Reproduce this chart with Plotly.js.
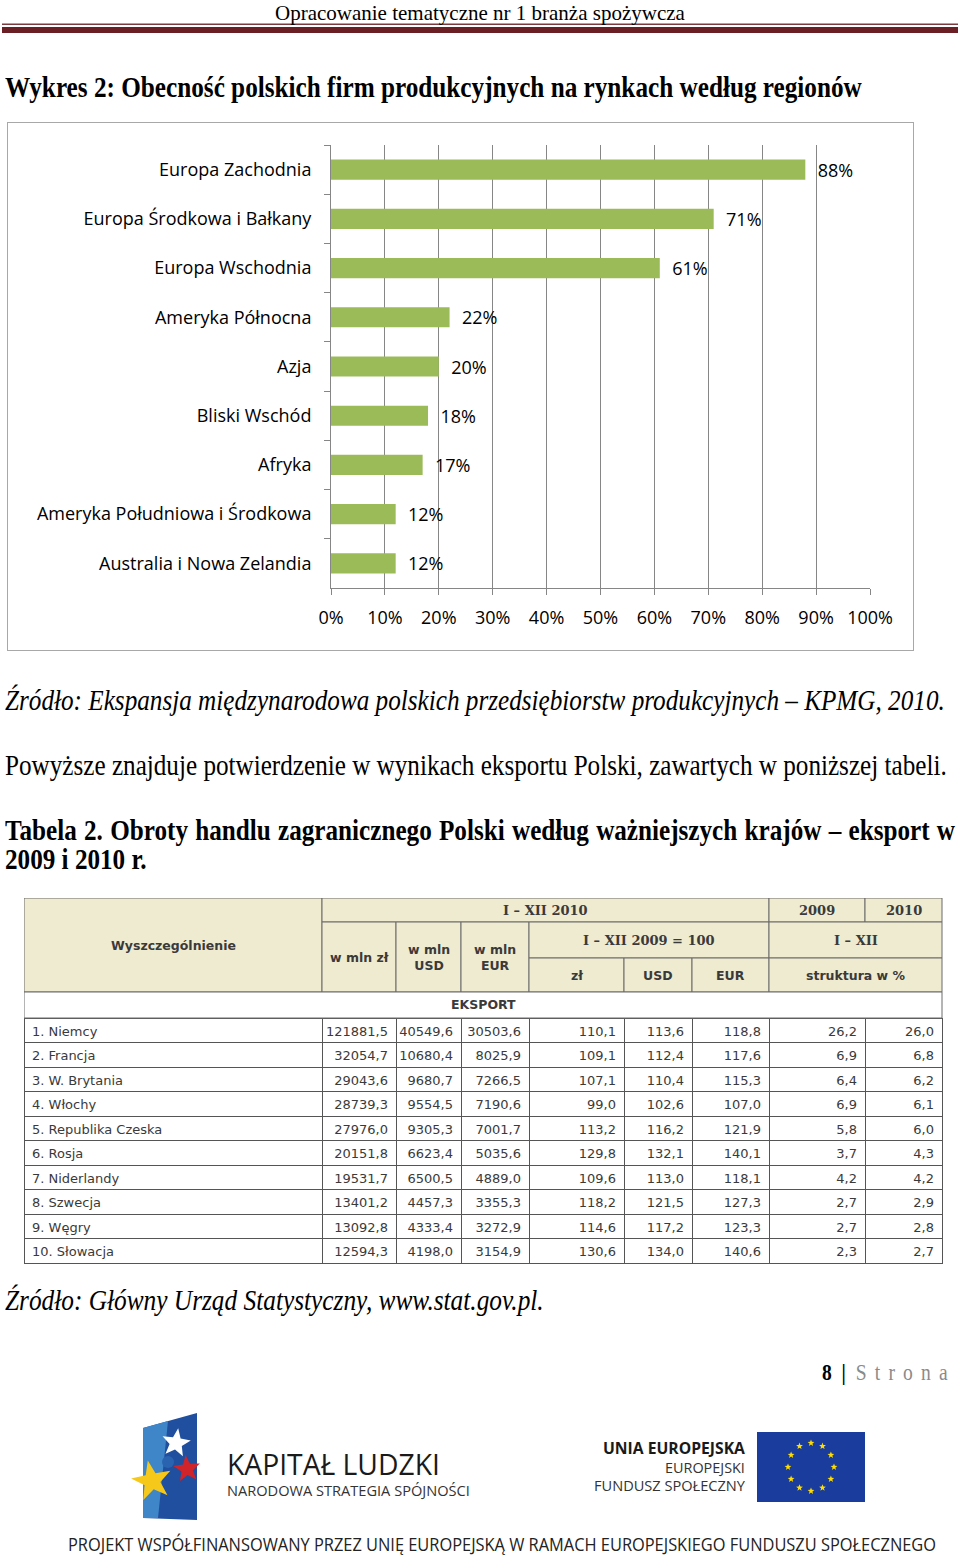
<!DOCTYPE html>
<html><head><meta charset="utf-8">
<script src="https://cdn.plot.ly/plotly-3.0.1.min.js"></script>
<style>
html,body{margin:0;padding:0;background:#fff;}
#page{position:relative;width:960px;height:1559px;overflow:hidden;background:#fff;}
.t{position:absolute;white-space:nowrap;line-height:1;transform-origin:0 50%;}
#chartBox{position:absolute;left:7px;top:122px;width:905px;height:527px;border:1.5px solid #a8a8a8;}
#chart{position:absolute;left:0;top:0;width:905px;height:527px;}
#table{position:absolute;left:24px;top:898px;width:919px;height:367px;}
#deco{position:absolute;left:0;top:0;}
</style></head>
<body>
<div id="page">
<svg id="deco" width="960" height="1559" viewBox="0 0 960 1559"></svg>
<div id="chartBox"><div id="chart"></div></div>
<div id="table"></div>
</div>
<script>
// ---------- chart data ----------
const regions = ["Europa Zachodnia","Europa Środkowa i Bałkany","Europa Wschodnia","Ameryka Północna","Azja","Bliski Wschód","Afryka","Ameryka Południowa i Środkowa","Australia i Nowa Zelandia"];
const shares = [88,71,61,22,20,18,17,12,12];
const xTickVals = [0,10,20,30,40,50,60,70,80,90,100];
const xTickText = ["0%","10%","20%","30%","40%","50%","60%","70%","80%","90%","100%"];

// ---------- table data ----------
const countries = ["1. Niemcy","2. Francja","3. W. Brytania","4. Włochy","5. Republika Czeska","6. Rosja","7. Niderlandy","8. Szwecja","9. Węgry","10. Słowacja"];
const mlnZl  = [121881.5,32054.7,29043.6,28739.3,27976.0,20151.8,19531.7,13401.2,13092.8,12594.3];
const mlnUsd = [40549.6,10680.4,9680.7,9554.5,9305.3,6623.4,6500.5,4457.3,4333.4,4198.0];
const mlnEur = [30503.6,8025.9,7266.5,7190.6,7001.7,5035.6,4889.0,3355.3,3272.9,3154.9];
const idxZl  = [110.1,109.1,107.1,99.0,113.2,129.8,109.6,118.2,114.6,130.6];
const idxUsd = [113.6,112.4,110.4,102.6,116.2,132.1,113.0,121.5,117.2,134.0];
const idxEur = [118.8,117.6,115.3,107.0,121.9,140.1,118.1,127.3,123.3,140.6];
const str2009 = [26.2,6.9,6.4,6.9,5.8,3.7,4.2,2.7,2.7,2.3];
const str2010 = [26.0,6.8,6.2,6.1,6.0,4.3,4.2,2.9,2.8,2.7];
const headerLabels = ["Wyszczególnienie","I – XII 2010","2009","2010","w mln zł","w mln<br>USD","w mln<br>EUR","I – XII 2009 = 100","I – XII","zł","USD","EUR","struktura w %","EKSPORT"];
const headerSerif  = [false,true,true,true,false,false,false,true,true,false,false,false,false,false];

// ---------- bar chart ----------
const chartFont = 'Open Sans, sans-serif';
Plotly.newPlot('chart', [{
  type:'bar', orientation:'h', y:regions, x:shares,
  text: shares.map(v => v + '%'),
  marker:{color:'#9bbb59'},
  texttemplate:'\u00a0\u00a0%{text}', textposition:'outside', cliponaxis:false, constraintext:'none',
  textfont:{family:chartFont,size:18,color:'#000'},
  hoverinfo:'skip'
}], {
  width:905, height:527, margin:{l:323,r:43,t:22,b:62},
  paper_bgcolor:'#fff', plot_bgcolor:'#fff', showlegend:false, bargap:0.59,
  font:{family:chartFont,size:18,color:'#000'},
  xaxis:{range:[0,100], tickvals:xTickVals, ticktext:xTickText, showgrid:true, gridcolor:'#868686', gridwidth:1,
    showline:true, linecolor:'#868686', linewidth:1, ticks:'outside', ticklen:6, tickcolor:'#868686',
    zeroline:false, ticklabelstandoff:7, fixedrange:true},
  yaxis:{type:'category', autorange:'reversed', showgrid:false, showline:true, linecolor:'#868686', linewidth:1,
    ticks:'outside', tickson:'boundaries', ticklen:6, tickcolor:'#868686', ticklabelstandoff:15, fixedrange:true}
}, {displayModeBar:false, staticPlot:true});

// ---------- table ----------
const TW=919, TH=367;
const colEdges=[0,298,372,437,505,600,668,745,841,918];
const rowEdges=[0,24,60,94,120];
const headerSpans=[[0,1,0,3],[1,7,0,1],[7,8,0,1],[8,9,0,1],[1,2,1,3],[2,3,1,3],[3,4,1,3],[4,7,1,2],[7,9,1,2],[4,5,2,3],[5,6,2,3],[6,7,2,3],[7,9,2,3],[0,9,3,4]];
const fmt = a => a.map(v => v.toFixed(1).replace('.',','));
const colW = colEdges.slice(1).map((e,i)=>e-colEdges[i]);
const shapes=[], annotations=[];
headerSpans.forEach((s,i)=>{
  const x0=colEdges[s[0]], x1=colEdges[s[1]], y0=rowEdges[s[2]], y1=rowEdges[s[3]];
  shapes.push({type:'rect', xref:'paper', yref:'paper', x0:x0/TW, x1:x1/TW, y0:1-y0/TH, y1:1-y1/TH,
    fillcolor: i===13 ? '#ffffff' : '#efebd0', line:{color:'#6a6a6a', width:1}});
  annotations.push({xref:'paper', yref:'paper', x:(x0+x1)/2/TW, y:1-(y0+y1)/2/TH, xanchor:'center', yanchor:'middle',
    text:'<b>'+headerLabels[i]+'</b>', showarrow:false,
    font: headerSerif[i] ? {family:'DejaVu Serif, serif', size:13, color:'#3a3a3a'} : {family:'DejaVu Sans, sans-serif', size:12.5, color:'#3a3a3a'}});
});
const tableCols = [countries, fmt(mlnZl), fmt(mlnUsd), fmt(mlnEur), fmt(idxZl), fmt(idxUsd), fmt(idxEur), fmt(str2009), fmt(str2010)];
const cellAlign = ['left','right','right','right','right','right','right','right','right'];
const cellFont = {family:'DejaVu Sans, sans-serif', size:13, color:'#3a3a3a'};
Plotly.newPlot('table', [{
  type:'table', domain:{x:[0, 918/TW], y:[0, 1-120/TH]}, columnwidth:colW,
  header:{values: tableCols.map(c => [c[0]]), align:cellAlign, height:24.5, font:cellFont,
    fill:{color:'#ffffff'}, line:{color:'#555', width:1}},
  cells:{values: tableCols.map(c => c.slice(1)), align:cellAlign, height:24.5, font:cellFont,
    fill:{color:'#ffffff'}, line:{color:'#555', width:1}}
}], {width:TW, height:TH, margin:{l:0,r:0,t:0,b:0}, paper_bgcolor:'rgba(0,0,0,0)', shapes, annotations},
{displayModeBar:false, staticPlot:true});

// ---------- document text ----------
const page=document.getElementById('page');
function place(c){
  const el=document.createElement('div'); el.className='t';
  const sp=document.createElement('span'); sp.innerHTML=c.html; el.appendChild(sp);
  el.style.fontFamily=c.f; el.style.fontWeight=c.b?'bold':'normal'; el.style.fontStyle=c.i?'italic':'normal';
  el.style.color=c.color||'#000';
  el.style.fontSize='100px'; page.appendChild(el);
  let fs = c.fs ? c.fs : 100*c.w/sp.getBoundingClientRect().width;
  el.style.fontSize=fs+'px';
  if(c.justify){ const wn=sp.getBoundingClientRect().width; const n=(c.html.match(/ /g)||[]).length; el.style.wordSpacing=((c.w-wn)/n)+'px'; }
  el.style.left=c.x+'px'; el.style.top=(c.cy-fs*0.52)+'px';
  el.style.transform='scaleY('+(c.sy||1)+')';
  return fs;
}
const SER='"Liberation Serif", "Times New Roman", serif';
const SANS='"Open Sans", sans-serif';
place({html:'Opracowanie tematyczne nr 1 branża spożywcza', x:275, w:410, cy:13.5, f:SER, sy:1.0});
place({html:'Wykres 2: Obecność polskich firm produkcyjnych na rynkach według regionów', x:5, w:857, cy:88, f:SER, b:true, sy:1.15});
place({html:'Źródło: Ekspansja międzynarodowa polskich przedsiębiorstw produkcyjnych – KPMG, 2010.', x:5, w:940, cy:701, f:SER, i:true, sy:1.15});
const bodyFs = place({html:'Powyższe znajduje potwierdzenie w wynikach eksportu Polski, zawartych w poniższej tabeli.', x:5, w:942, cy:766, f:SER, sy:1.15});
place({html:'Tabela 2. Obroty handlu zagranicznego Polski według ważniejszych krajów – eksport w', x:5, w:950, cy:831, f:SER, b:true, fs:bodyFs, justify:true, sy:1.15});
place({html:'2009 i 2010 r.', x:5, cy:860, f:SER, b:true, fs:bodyFs, sy:1.15});
place({html:'Źródło: Główny Urząd Statystyczny, www.stat.gov.pl.', x:5, w:539, cy:1301, f:SER, i:true, sy:1.15});
place({html:'<b>8</b>\u2002<b>|</b>\u2002<span style="color:#8a8a8a;letter-spacing:0.42em">Strona</span>', x:822, w:134, cy:1373, f:SER, sy:1.15});
place({html:'KAPITAŁ LUDZKI', x:227, w:213, cy:1464, f:SANS, color:'#1a1a1a', sy:1.05});
place({html:'NARODOWA STRATEGIA SPÓJNOŚCI', x:227, w:243, cy:1491, f:SANS, color:'#333', sy:1.0});
place({html:'UNIA EUROPEJSKA', x:603, w:142, cy:1449, f:SANS, b:true, color:'#1a1a1a', sy:1.0});
place({html:'EUROPEJSKI', x:665, w:80, cy:1469, f:SANS, color:'#333', sy:1.0});
place({html:'FUNDUSZ SPOŁECZNY', x:594, w:151, cy:1486, f:SANS, color:'#333', sy:1.0});
place({html:'PROJEKT WSPÓŁFINANSOWANY PRZEZ UNIĘ EUROPEJSKĄ W RAMACH EUROPEJSKIEGO FUNDUSZU SPOŁECZNEGO', x:68, w:869, cy:1545, f:SANS, color:'#222', sy:1.1});

// ---------- decorations (header rule, logos) ----------
const svg=document.getElementById('deco');
function star(cx,cy,R,r,rot){let p=[];for(let k=0;k<10;k++){const a=rot+k*Math.PI/5-Math.PI/2;const rr=k%2?r:R;p.push((cx+rr*Math.cos(a)).toFixed(1)+','+(cy+rr*Math.sin(a)).toFixed(1));}return p.join(' ');}
let s='';
s+='<rect x="2" y="23.5" width="956" height="1.5" fill="#7a3a3e"/>';
s+='<rect x="2" y="27" width="956" height="6" fill="#6a1f25"/>';
// Kapitał Ludzki logo
s+='<polygon points="143,1428 197,1413 197,1520 143,1518" fill="#1f4f9e"/>';
s+='<polygon points="143,1428 168,1421 158,1518 143,1518" fill="#3f86c9"/>';
s+='<polygon points="'+star(176,1443,15,6.5,0.15)+'" fill="#ffffff"/>';
s+='<polygon points="'+star(187,1469,14,6,-0.1)+'" fill="#d0232a"/>';
s+='<circle cx="168" cy="1462" r="6" fill="#2a64b0"/>';
s+='<polygon points="'+star(152,1481,21,8.5,-0.2)+'" fill="#f6c81a"/>';
// EU flag
s+='<rect x="757" y="1432" width="108" height="70" fill="#1a3c9c"/>';
for(let k=0;k<12;k++){const a=k*Math.PI/6;s+='<polygon points="'+star(811+23*Math.sin(a),1467-24*Math.cos(a),3.6,1.5,0)+'" fill="#ffdd00"/>';}
svg.innerHTML=s;
</script>
</body></html>
